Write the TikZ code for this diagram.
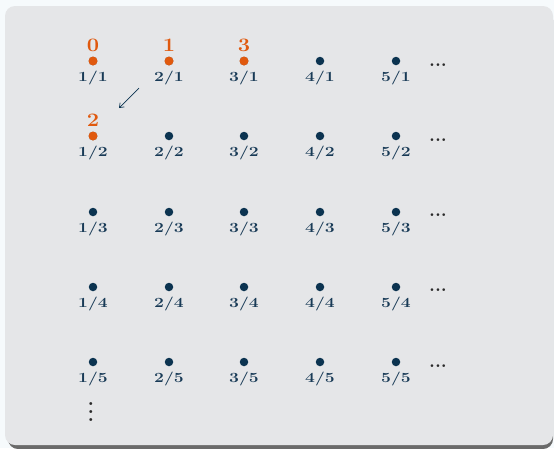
\documentclass[tikz,border=0pt]{standalone}
\usetikzlibrary{arrows.meta}
\definecolor{pagebg}{HTML}{F6FAFC}
\definecolor{panel}{HTML}{E5E6E8}
\definecolor{shadowc}{HTML}{6A6A6A}
\definecolor{navy}{HTML}{0B3350}
\definecolor{labnavy}{HTML}{183A56}
\definecolor{orng}{HTML}{E0590E}
\definecolor{dotc}{HTML}{2A2A2A}
\tikzset{
  pt/.style={circle,fill=navy,inner sep=0pt,minimum size=8.5pt},
  opt/.style={circle,fill=orng,inner sep=0pt,minimum size=9pt},
  lab/.style={text=labnavy,font=\fontsize{14}{14}\selectfont\bfseries,inner sep=0pt,xscale=1.25},
  num/.style={text=orng,font=\fontsize{19}{19}\selectfont\bfseries,inner sep=0pt,xscale=1.15},
  dts/.style={text=dotc,font=\fontsize{19}{19}\selectfont\bfseries,inner sep=0pt},
  vdts/.style={text=dotc,font=\bfseries,inner sep=0pt,scale=1.9,transform shape},
}
\begin{document}
\begin{tikzpicture}[x=1pt,y=-1pt]
\useasboundingbox (0,0) rectangle (554,448);
\fill[pagebg] (0,0) rectangle (554,448);
\fill[shadowc,rounded corners=10pt] (8,10) rectangle (553,449);
\fill[panel,rounded corners=10pt] (5,6) rectangle (553,445);
\foreach \i/\x in {1/93,2/169,3/244,4/320,5/396}{
  \foreach \j/\y in {1/61,2/136,3/212,4/287,5/362}{
    \node[pt] (p\i\j) at (\x,\y) {};
    \node[lab,anchor=north] (l\i\j) at (\x,\y+9.5) {\i/\j};
  }
}
\foreach \k in {1,...,5}{
  \node[dts,anchor=base] (d\k) at (438,{66+75.25*(\k-1)}) {...};
}
\node[vdts,anchor=base] (vd) at (91,421) {$\vdots$};
% orange marks
\node[opt] at (p11) {};
\node[opt] at (p21) {};
\node[opt] at (p31) {};
\node[opt] at (p12) {};
\node[num,anchor=base] (n0) at (93,51) {0};
\node[num,anchor=base] (n1) at (169,51) {1};
\node[num,anchor=base] (n3) at (244,51) {3};
\node[num,anchor=base] (n2) at (93,126) {2};
\coordinate (as) at (139,88);
\coordinate (ae) at (119,108);
\draw[navy,line width=0.7pt,-{Straight Barb[length=4pt,width=6pt]}] (as) -- (ae);
\end{tikzpicture}
\end{document}
